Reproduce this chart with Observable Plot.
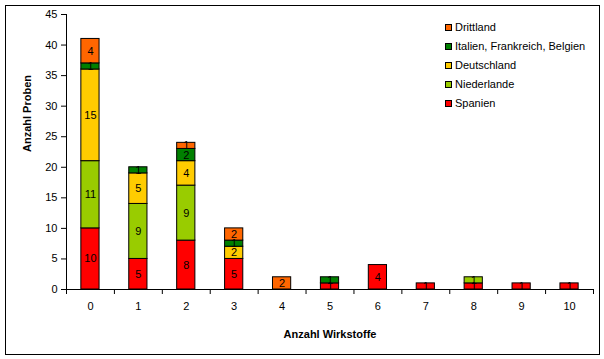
<!DOCTYPE html>
<html>
<head>
<meta charset="utf-8">
<script src="https://cdn.jsdelivr.net/npm/d3@7"></script>
<script src="https://cdn.jsdelivr.net/npm/@observablehq/plot@0.6"></script>
<style>
  html, body { margin: 0; padding: 0; background: #fff; }
  #wrap { position: relative; width: 604px; height: 359px; overflow: hidden; font-family: Arial, "Liberation Sans", sans-serif; }
  #border { position: absolute; left: 5px; top: 5px; width: 593px; height: 348px; border: 1px solid #000; pointer-events: none; }
  #legend { position: absolute; left: 445px; top: 0; font-size: 11px; color: #000; }
  .item { position: absolute; left: 0; white-space: nowrap; height: 14px; line-height: 14px; }
  .sw { position: absolute; left: 0; top: 4px; width: 5px; height: 5px; border: 1px solid #000; }
  .lab { position: absolute; left: 10px; top: 0; }
</style>
</head>
<body>
<div id="wrap"><div id="border"></div><div id="legend"></div></div>
<script>
// Data
const categories   = [0, 1, 2, 3, 4, 5, 6, 7, 8, 9, 10];
const spanien      = [10, 5, 8, 5, 0, 1, 4, 1, 1, 1, 1];
const niederlande  = [11, 9, 9, 0, 0, 0, 0, 0, 1, 0, 0];
const deutschland  = [15, 5, 4, 2, 0, 0, 0, 0, 0, 0, 0];
const italien      = [1, 1, 2, 1, 0, 1, 0, 0, 0, 0, 0];
const drittland    = [4, 0, 1, 2, 2, 0, 0, 0, 0, 0, 0];
const seriesNames  = ["Spanien", "Niederlande", "Deutschland", "Italien, Frankreich, Belgien", "Drittland"];
const seriesColors = ["#FF0000", "#99CC00", "#FFCC00", "#008000", "#FF6600"];
const yTicks       = [0, 5, 10, 15, 20, 25, 30, 35, 40, 45];
const xLabel = "Anzahl Wirkstoffe";
const yLabel = "Anzahl Proben";

const seriesValues = [spanien, niederlande, deutschland, italien, drittland];
const rows = [];
categories.forEach((c, i) => {
  let acc = 0;
  seriesNames.forEach((s, k) => {
    const v = seriesValues[k][i];
    if (v > 0) {
      rows.push({cat: c, series: s, value: v, y1: acc, y2: acc + v});
      acc += v;
    }
  });
});

const halfW = 0.19;
const boundaries = d3.range(-0.5, categories.length, 1);

const chart = Plot.plot({
  width: 604,
  height: 359,
  marginLeft: 66,
  marginRight: 11,
  marginTop: 14,
  marginBottom: 70,
  style: {fontFamily: "Arial, 'Liberation Sans', sans-serif", fontSize: "11px", color: "#000", background: "transparent"},
  x: {type: "linear", domain: [-0.5, 10.5]},
  y: {domain: [0, 45]},
  color: {domain: seriesNames, range: seriesColors},
  marks: [
    Plot.rectY(rows, {x1: d => d.cat - halfW, x2: d => d.cat + halfW, y1: "y1", y2: "y2", fill: "series", stroke: "#000", strokeWidth: 1}),
    Plot.text(rows, {x: "cat", y: d => (d.y1 + d.y2) / 2, text: d => String(d.value), fill: "#000", fontSize: 11}),
    Plot.ruleY([0], {stroke: "#000"}),
    Plot.ruleX([-0.5], {stroke: "#000"}),
    Plot.axisY({ticks: yTicks, tickSize: 5, tickPadding: 4, label: null, tickFormat: d => String(d)}),
    Plot.axisX({ticks: boundaries, tickSize: 5, tickFormat: () => "", label: null}),
    Plot.axisX({ticks: categories, tickSize: 0, tickPadding: 13, label: null, tickFormat: d => String(d)}),
    Plot.text([xLabel], {frameAnchor: "bottom", dy: 48, fontWeight: "bold", fontSize: 11, fill: "#000"}),
    Plot.text([yLabel], {frameAnchor: "left", dx: -39, rotate: -90, fontWeight: "bold", fontSize: 11, fill: "#000"})
  ]
});
document.getElementById("wrap").prepend(chart);

// Legend (top to bottom: reverse stacking order)
const legend = document.getElementById("legend");
const legendOrder = seriesNames.map((s, k) => ({s, c: seriesColors[k]})).reverse();
legendOrder.forEach((d, j) => {
  const it = document.createElement("div");
  it.className = "item";
  it.style.top = (20 + j * 19) + "px";
  it.innerHTML = `<span class="sw" style="background:${d.c}"></span><span class="lab">${d.s}</span>`;
  legend.appendChild(it);
});
</script>
</body>
</html>
